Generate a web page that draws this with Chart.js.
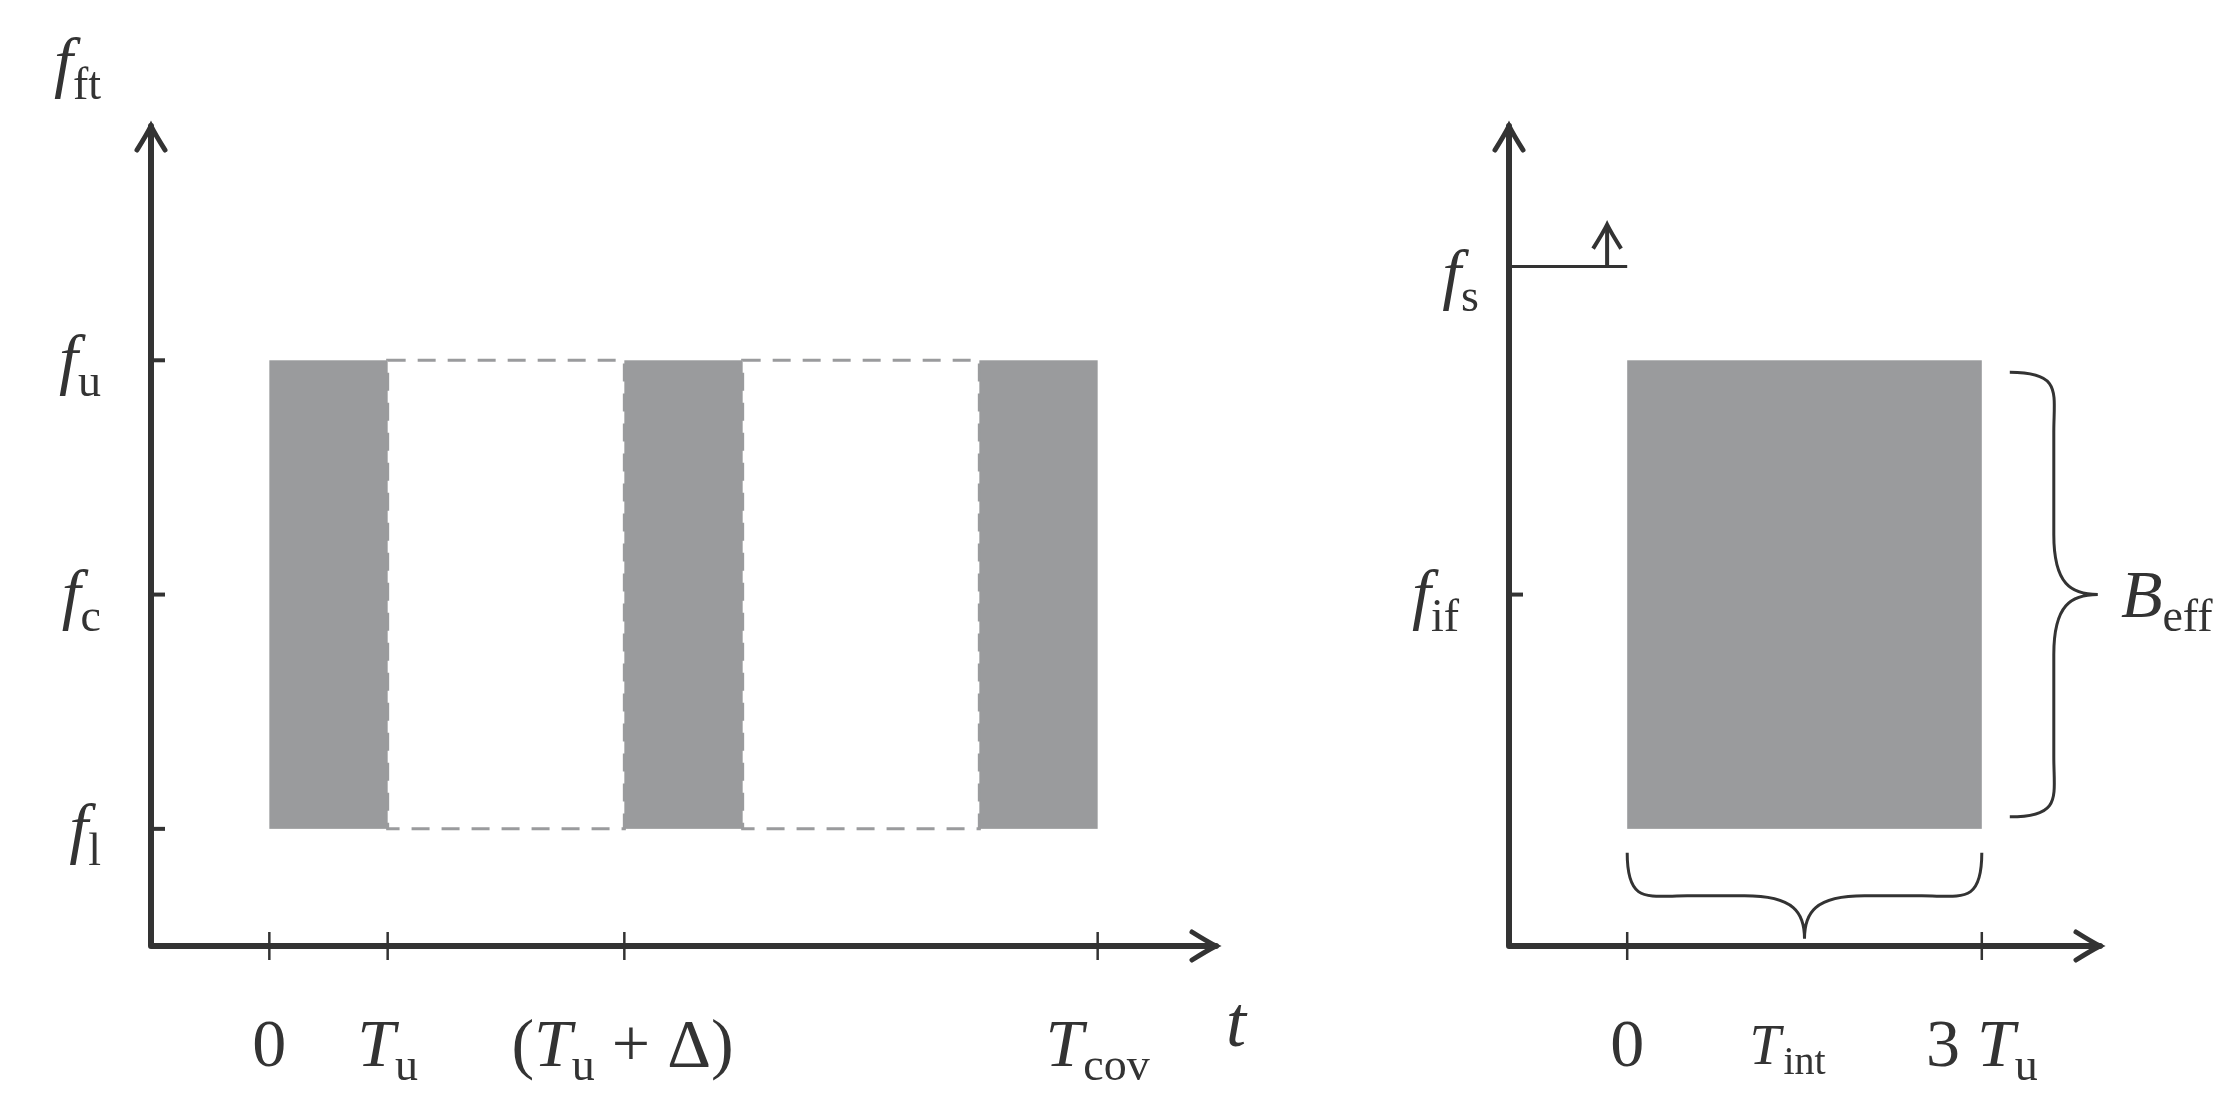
<!DOCTYPE html>
<html>
<head>
<meta charset="utf-8">
<script src="https://cdn.jsdelivr.net/npm/chart.js@4"></script>
<style>
  body { margin: 0; background: #fff; }
  .box { position: absolute; top: 0; height: 1101px; }
  #left { left: 0; width: 1254px; }
  #right { left: 1254px; width: 983px; }
</style>
</head>
<body>
<div class="box" id="left"><canvas id="leftChart"></canvas></div>
<div class="box" id="right"><canvas id="rightChart"></canvas></div>
<script>
// time in units of Tu, frequency: fl = 0, fc = 1, fu = 2
const leftFilled = [[0, 1], [3, 4], [6, 7]];
const leftDashed = [[1, 3], [4, 6]];
const leftXTicks = [0, 1, 3, 7];
const leftXLabels = [["0", ""], ["T", "u"], ["(T", "u", " + Δ)"], ["T", "cov"]];
const leftYTicks = [0, 1, 2];
const leftYLabels = [["f", "l"], ["f", "c"], ["f", "u"]];

const rightFilled = [[0, 3]];
const rightXTicks = [0, 3];
const rightXLabels = [["0", ""], ["3 T", "u"]];
const rightYTicks = [1];
const rightYLabels = [["f", "if"]];
const fsLevel = 2.4;

const gray = "#9a9b9d";
const ink = "#333333";
const serif = "'Liberation Serif', 'DejaVu Serif', serif";

function label(ctx, parts, x, y, align) {
    // parts: [main, sub, tail]
    const big = "italic 68px " + serif, small = "46px " + serif;
    let main = parts[0], sub = parts[1] || "", tail = parts[2] || "";
    ctx.font = big; let w1 = ctx.measureText(main).width;
    ctx.font = small; let w2 = ctx.measureText(sub).width;
    ctx.font = big; let w3 = ctx.measureText(tail).width;
    let total = w1 + w2 + w3;
    let x0 = align === "right" ? x - total : x - total / 2;
    ctx.textBaseline = "alphabetic"; ctx.textAlign = "left"; ctx.fillStyle = ink;
    ctx.font = /^[0-9]/.test(main) || main.startsWith("(") ? "68px " + serif : big;
    if (main.startsWith("3")) {
        ctx.font = "68px " + serif; ctx.fillText("3 ", x0, y);
        let w = ctx.measureText("3 ").width;
        ctx.font = big; ctx.fillText("T", x0 + w, y);
    } else if (main.startsWith("(")) {
        ctx.font = "68px " + serif; ctx.fillText("(", x0, y);
        let w = ctx.measureText("(").width;
        ctx.font = big; ctx.fillText("T", x0 + w, y);
    } else {
        ctx.fillText(main, x0, y);
    }
    ctx.font = small; ctx.fillText(sub, x0 + w1, y + 14);
    ctx.font = "68px " + serif; ctx.fillText(tail, x0 + w1 + w2, y);
}

function arrowHead(ctx, x, y, dir) {
    ctx.beginPath();
    if (dir === "up") {
        ctx.moveTo(x - 14, y + 24); ctx.quadraticCurveTo(x - 4, y + 8, x, y);
        ctx.quadraticCurveTo(x + 4, y + 8, x + 14, y + 24);
    } else {
        ctx.moveTo(x - 24, y - 14); ctx.quadraticCurveTo(x - 8, y - 4, x, y);
        ctx.quadraticCurveTo(x - 8, y + 4, x - 24, y + 14);
    }
    ctx.stroke();
}

function drawAxes(ctx, xs, ys, xTicks, xLabels, yTicks, yLabels) {
    const a = xs.getPixelForValue(xs.min), b = ys.getPixelForValue(ys.min);
    const right = xs.getPixelForValue(xs.max), top = ys.getPixelForValue(ys.max);
    ctx.strokeStyle = ink; ctx.lineWidth = 6; ctx.lineCap = "round";
    ctx.beginPath(); ctx.moveTo(a, b); ctx.lineTo(right, b); ctx.moveTo(a, b); ctx.lineTo(a, top); ctx.stroke();
    ctx.lineWidth = 5;
    arrowHead(ctx, right, b, "right"); arrowHead(ctx, a, top, "up");
    ctx.lineWidth = 2.5; ctx.lineCap = "butt";
    xTicks.forEach((t, i) => {
        const px = xs.getPixelForValue(t);
        ctx.beginPath(); ctx.moveTo(px, b - 14); ctx.lineTo(px, b + 14); ctx.stroke();
        label(ctx, xLabels[i], px, b + 120, "center");
    });
    yTicks.forEach((t, i) => {
        const py = ys.getPixelForValue(t);
        ctx.lineWidth = 4;
        ctx.beginPath(); ctx.moveTo(a, py); ctx.lineTo(a + 14, py); ctx.stroke();
        label(ctx, yLabels[i], a - 50, py + 22, "right");
    });
}

function brace(ctx, x0, y0, x1, y1, depth, vertical) {
    // brace from (x0,y0) to (x1,y1), bulging by depth
    ctx.beginPath();
    if (vertical) {
        const m = (y0 + y1) / 2, d = depth;
        ctx.moveTo(x0, y0);
        ctx.bezierCurveTo(x0 + d * 0.6, y0, x0 + d * 0.5, y0 + 20, x0 + d * 0.5, y0 + 60);
        ctx.lineTo(x0 + d * 0.5, m - 60);
        ctx.bezierCurveTo(x0 + d * 0.5, m - 10, x0 + d * 0.7, m, x0 + d, m);
        ctx.bezierCurveTo(x0 + d * 0.7, m, x0 + d * 0.5, m + 10, x0 + d * 0.5, m + 60);
        ctx.lineTo(x0 + d * 0.5, y1 - 60);
        ctx.bezierCurveTo(x0 + d * 0.5, y1 - 20, x0 + d * 0.6, y1, x0, y1);
    } else {
        const m = (x0 + x1) / 2, d = depth;
        ctx.moveTo(x0, y0);
        ctx.bezierCurveTo(x0, y0 + d * 0.6, x0 + 20, y0 + d * 0.5, x0 + 60, y0 + d * 0.5);
        ctx.lineTo(m - 60, y0 + d * 0.5);
        ctx.bezierCurveTo(m - 10, y0 + d * 0.5, m, y0 + d * 0.7, m, y0 + d);
        ctx.bezierCurveTo(m, y0 + d * 0.7, m + 10, y0 + d * 0.5, m + 60, y0 + d * 0.5);
        ctx.lineTo(x1 - 60, y0 + d * 0.5);
        ctx.bezierCurveTo(x1 - 20, y0 + d * 0.5, x1, y0 + d * 0.6, x1, y0);
    }
    ctx.stroke();
}

const leftPlugin = {
    id: "leftDraw",
    afterDraw(chart) {
        const ctx = chart.ctx, xs = chart.scales.x, ys = chart.scales.y;
        const yl = ys.getPixelForValue(0), yu = ys.getPixelForValue(2);
        ctx.save();
        ctx.fillStyle = gray;
        leftFilled.forEach(([s, e]) => {
            const a = xs.getPixelForValue(s), b = xs.getPixelForValue(e);
            ctx.fillRect(a, yu, b - a, yl - yu);
        });
        ctx.strokeStyle = gray; ctx.lineWidth = 3; ctx.setLineDash([18, 12]);
        leftDashed.forEach(([s, e]) => {
            const a = xs.getPixelForValue(s), b = xs.getPixelForValue(e);
            ctx.strokeRect(a, yu, b - a, yl - yu);
        });
        ctx.setLineDash([]);
        drawAxes(ctx, xs, ys, leftXTicks, leftXLabels, leftYTicks, leftYLabels);
        label(ctx, ["f", "ft"], xs.getPixelForValue(xs.min) - 50, 85, "right");
        ctx.font = "italic 72px " + serif; ctx.fillStyle = ink; ctx.textAlign = "left";
        ctx.fillText("t", xs.getPixelForValue(xs.max) + 10, chart.scales.y.getPixelForValue(ys.min) + 100);
        ctx.restore();
    }
};

const rightPlugin = {
    id: "rightDraw",
    afterDraw(chart) {
        const ctx = chart.ctx, xs = chart.scales.x, ys = chart.scales.y;
        const yl = ys.getPixelForValue(0), yu = ys.getPixelForValue(2);
        ctx.save();
        ctx.fillStyle = gray;
        rightFilled.forEach(([s, e]) => {
            const a = xs.getPixelForValue(s), b = xs.getPixelForValue(e);
            ctx.fillRect(a, yu, b - a, yl - yu);
        });
        drawAxes(ctx, xs, ys, rightXTicks, rightXLabels, rightYTicks, rightYLabels);
        // fs level
        const ax = xs.getPixelForValue(xs.min), fy = ys.getPixelForValue(fsLevel);
        ctx.strokeStyle = ink; ctx.lineWidth = 3;
        ctx.beginPath(); ctx.moveTo(ax, fy); ctx.lineTo(xs.getPixelForValue(0), fy); ctx.stroke();
        const sx = xs.getPixelForValue(-0.17);
        ctx.lineWidth = 4;
        ctx.beginPath(); ctx.moveTo(sx, fy); ctx.lineTo(sx, fy - 40); ctx.stroke();
        arrowHead(ctx, sx, fy - 42, "up");
        label(ctx, ["f", "s"], ax - 30, fy + 30, "right");
        // braces
        ctx.lineWidth = 3;
        brace(ctx, xs.getPixelForValue(3) + 28, yu + 12, 0, yl - 12, 88, true);
        label(ctx, ["B", "eff"], xs.getPixelForValue(3) + 185, ys.getPixelForValue(1) + 22, "center");
        brace(ctx, xs.getPixelForValue(0), yl + 24, xs.getPixelForValue(3), 0, 86, false);
        ctx.restore();
        ctx.save();
        const big = "italic 56px " + serif;
        ctx.fillStyle = ink; ctx.font = big; ctx.textAlign = "left";
        const tx = xs.getPixelForValue(1.5) - 55, ty = ys.getPixelForValue(ys.min) + 118;
        ctx.fillText("T", tx, ty);
        ctx.font = "40px " + serif; ctx.fillText("int", tx + 34, ty + 10);
        ctx.restore();
    }
};

function makeChart(id, xMin, xMax, padding, plugin) {
    return new Chart(document.getElementById(id), {
        type: "scatter",
        data: { datasets: [{ data: [], showLine: false }] },
        options: {
            responsive: true,
            maintainAspectRatio: false,
            animation: false,
            layout: { padding: padding },
            plugins: { legend: { display: false }, tooltip: { enabled: false } },
            scales: {
                x: { type: "linear", min: xMin, max: xMax, display: false },
                y: { type: "linear", min: -0.5, max: 3, display: false }
            }
        },
        plugins: [plugin]
    });
}

makeChart("leftChart", -1, 8, { left: 151, right: 38, top: 126, bottom: 155 }, leftPlugin);
makeChart("rightChart", -1, 4, { left: 255, right: 137, top: 126, bottom: 155 }, rightPlugin);
</script>
</body>
</html>
